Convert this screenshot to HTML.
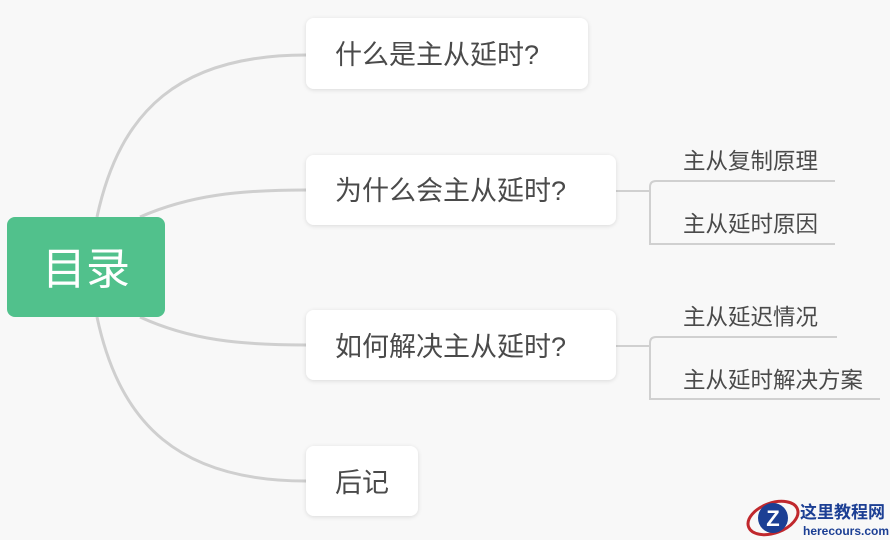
<!DOCTYPE html>
<html><head><meta charset="utf-8"><style>
body{margin:0;background:#f8f8f8;}
svg{display:block}
text{font-family:"Liberation Sans","Noto Sans CJK SC",sans-serif;}
</style></head><body>
<svg width="890" height="540" viewBox="0 0 890 540" xmlns="http://www.w3.org/2000/svg">
<defs><filter id="s" x="-10%" y="-20%" width="120%" height="150%"><feDropShadow dx="0" dy="1" stdDeviation="2" flood-color="#000" flood-opacity="0.12"/></filter></defs>
<rect width="890" height="540" fill="#f8f8f8"/>
<g fill="none" stroke="#cfcfcf" stroke-width="3">
<path d="M97 217 C120 110 180 55 306 55"/>
<path d="M140 217 C190 195 240 190 306 190"/>
<path d="M140 317 C190 340 240 345 306 345"/>
<path d="M97 317 C120 425 180 481 306 481"/>
</g>
<g fill="none" stroke="#d0d0d0" stroke-width="2">
<path d="M616 191 H650"/>
<path d="M835 181 H656 Q650 181 650 187 V244 H835"/>
<path d="M616 346 H650"/>
<path d="M837 337 H656 Q650 337 650 343 V399 H880"/>
</g>
<rect x="7" y="217" width="158" height="100" rx="8" fill="#51c18c"/>
<text x="86" y="284" font-size="44" fill="#fff" text-anchor="middle">目录</text>
<g filter="url(#s)" fill="#fff">
<rect x="306" y="18" width="282" height="71" rx="8"/>
<rect x="306" y="155" width="310" height="70" rx="8"/>
<rect x="306" y="310" width="310" height="70" rx="8"/>
<rect x="306" y="446" width="112" height="70" rx="8"/>
</g>
<g font-size="27" fill="#4a4a4a">
<text x="335" y="64">什么是主从延时?</text>
<text x="335" y="200">为什么会主从延时?</text>
<text x="335" y="356">如何解决主从延时?</text>
<text x="335" y="492">后记</text>
</g>
<g font-size="22.5" fill="#4a4a4a">
<text x="683" y="169">主从复制原理</text>
<text x="683" y="232">主从延时原因</text>
<text x="683" y="325">主从延迟情况</text>
<text x="683" y="388">主从延时解决方案</text>
</g>
<g>
<ellipse cx="773" cy="518" rx="26" ry="15" fill="none" stroke="#c0282d" stroke-width="3" transform="rotate(-20 773 518)"/>
<circle cx="773" cy="518" r="15" fill="#1c3f94"/>
<text x="773" y="526" font-size="22" font-weight="bold" fill="#fff" text-anchor="middle">Z</text>
<text x="800" y="518" font-size="17" font-weight="bold" fill="#1c3f94" font-family="'Noto Serif CJK SC',serif">这里教程网</text>
<text x="803" y="535" font-size="12" font-weight="bold" fill="#1c3f94" font-family="'Liberation Serif',serif">herecours.com</text>
</g>
</svg>
</body></html>
